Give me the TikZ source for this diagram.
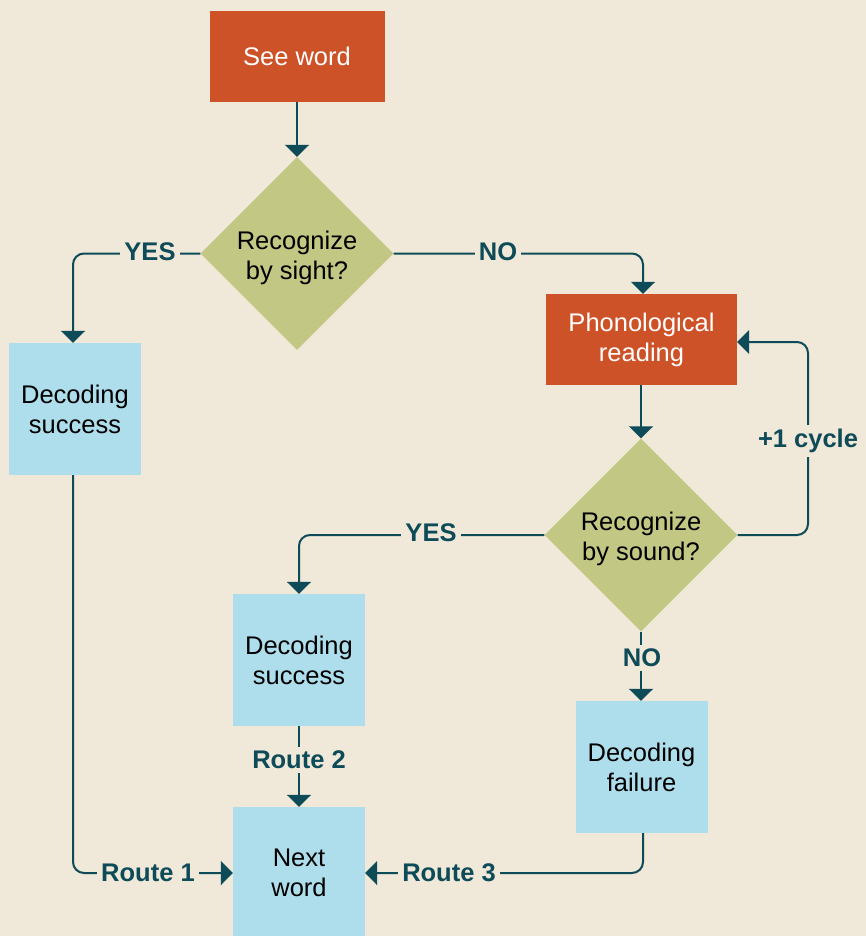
\documentclass[tikz,border=0pt]{standalone}
\usepackage{fontspec}
\setmainfont{Liberation Sans}
\usetikzlibrary{shapes.geometric,arrows.meta}
\definecolor{bg}{HTML}{F0E8D8}
\definecolor{orng}{HTML}{CD5228}
\definecolor{olive}{HTML}{C2C783}
\definecolor{sky}{HTML}{AEDEEC}
\definecolor{teal}{HTML}{0E4B58}
\tikzset{
  txt/.style={align=center, font=\fontsize{25.5}{30}\selectfont},
  boxo/.style={rectangle, fill=orng, text=white, inner sep=0pt, txt},
  boxb/.style={rectangle, fill=sky, text=black, inner sep=0pt, txt, minimum width=132pt, minimum height=132pt},
  dia/.style={diamond, fill=olive, inner sep=0pt, aspect=1, minimum width=193pt, minimum height=193pt},
  diatext/.style={txt, text=black, inner sep=0pt},
  conn/.style={draw=teal, line width=2pt, rounded corners=11pt, -{Triangle[width=24pt,length=12pt]}},
  lbl/.style={fill=bg, text=teal, inner sep=4pt, font=\bfseries\fontsize{25.5}{28}\selectfont}
}
\begin{document}
\begin{tikzpicture}[x=1pt,y=-1pt]
\fill[bg] (0,0) rectangle (866,936);
\useasboundingbox (0,0) rectangle (866,936);
\node[boxo, minimum width=175pt, minimum height=91pt] (see) at (297,56.5) {See word};
\node[dia] (d1) at (297,253.5) {};
\node[diatext] (d1t) at (297,258) {Recognize\\by sight?};
\node[boxb] (s1) at (75,409) {Decoding\\success};
\node[boxo, minimum width=191pt, minimum height=91pt] (ph) at (641.5,339.5) {Phonological\\reading};
\node[dia] (d2) at (641,535) {};
\node[diatext] (d2t) at (641,539) {Recognize\\by sound?};
\node[boxb] (s2) at (299,660) {Decoding\\success};
\node[boxb] (fl) at (641.5,767) {Decoding\\failure};
\node[boxb, minimum height=131pt] (nx) at (299,872.5) {Next\\word};
\coordinate (c1) at (73,253.5);
\coordinate (c2) at (643,253.5);
\coordinate (c3) at (808,535);
\coordinate (c4) at (808,342);
\coordinate (c5) at (299,535);
\coordinate (c6) at (73,873);
\coordinate (c7) at (643,873);
\draw[conn] (see.south) -- (d1.north);
\draw[conn] (d1.west) -- (c1) -- (c1 |- s1.north);
\draw[conn] (d1.east) -- (c2) -- (c2 |- ph.north);
\draw[conn] (ph.south -| d2.north) -- (d2.north);
\draw[conn] (d2.east) -- (c3) -- (c4) -- (c4 -| ph.east);
\draw[conn] (d2.west) -- (c5) -- (s2.north);
\draw[conn] (d2.south) -- (d2.south |- fl.north);
\draw[conn] (s2.south) -- (nx.north);
\draw[conn] (s1.south -| c6) -- (c6) -- (c6 -| nx.west);
\draw[conn] (fl.south -| c7) -- (c7) -- (c7 -| nx.east);
\node[lbl] (l1) at (150,252) {YES};
\node[lbl] (l2) at (498,252) {NO};
\node[lbl] (l3) at (808,441) {+1 cycle};
\node[lbl] (l4) at (431,533) {YES};
\node[lbl] (l5) at (642,658) {NO};
\node[lbl] (l6) at (299,760) {Route 2};
\node[lbl] (l7) at (148,873) {Route 1};
\node[lbl] (l8) at (449,873) {Route 3};
\end{tikzpicture}
\end{document}
